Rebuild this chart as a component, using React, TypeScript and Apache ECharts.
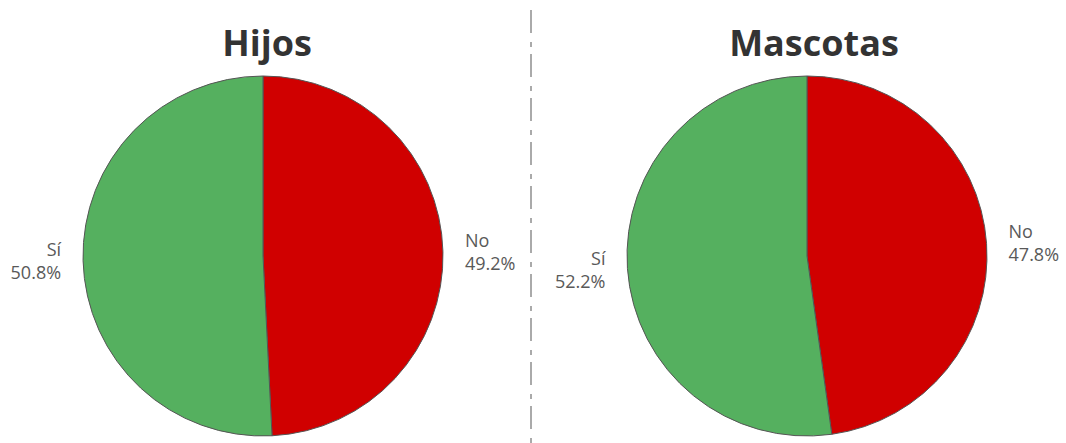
import React, { useEffect, useRef } from "react";
import * as echarts from "echarts";

const titles = ["Hijos", "Mascotas"];
const categories = ["No", "Sí"];
const hijosValues = [49.2, 50.8];
const mascotasValues = [47.8, 52.2];
const colors = ["#D00000", "#55B05F"];

export default function App() {
  const ref = useRef<HTMLDivElement>(null);
  useEffect(() => {
    document.body.style.margin = "0";
    const chart = echarts.init(ref.current!, null, { renderer: "svg" });
    const font = "'Open Sans', 'Noto Sans', sans-serif";
    const makePie = (values: number[], cx: number) => ({
      type: "pie",
      center: [cx, 256],
      radius: 180,
      startAngle: 90,
      clockwise: true,
      color: colors,
      itemStyle: { borderColor: "#555", borderWidth: 1 },
      emphasis: { disabled: true },
      label: {
        show: true,
        position: "outside",
        formatter: "{b}\n{c}%",
        color: "#595959",
        fontSize: 18,
        lineHeight: 23,
        fontFamily: font,
        overflow: "none",
        edgeDistance: 0,
      },
      labelLine: { show: false, length: 9, length2: 8 },
      data: categories.map((c, i) => ({ name: c, value: values[i] })),
    });
    const titleText = (text: string, x: number) => ({
      type: "text",
      style: {
        text,
        x,
        y: 42,
        align: "center",
        verticalAlign: "middle",
        fontSize: 36,
        fontWeight: "bold",
        fontFamily: font,
        fill: "#333",
      },
    });
    chart.setOption({
      animation: false,
      graphic: [
        {
          type: "line",
          shape: { x1: 531, y1: 10, x2: 531, y2: 443 },
          style: { stroke: "#aaa", lineWidth: 2, lineDash: [23, 9, 5, 7] },
        },
        titleText(titles[0], 267),
        titleText(titles[1], 814),
      ],
      series: [makePie(hijosValues, 263), makePie(mascotasValues, 807)],
    });
    return () => chart.dispose();
  }, []);
  return <div ref={ref} style={{ width: 1066, height: 443 }} />;
}
